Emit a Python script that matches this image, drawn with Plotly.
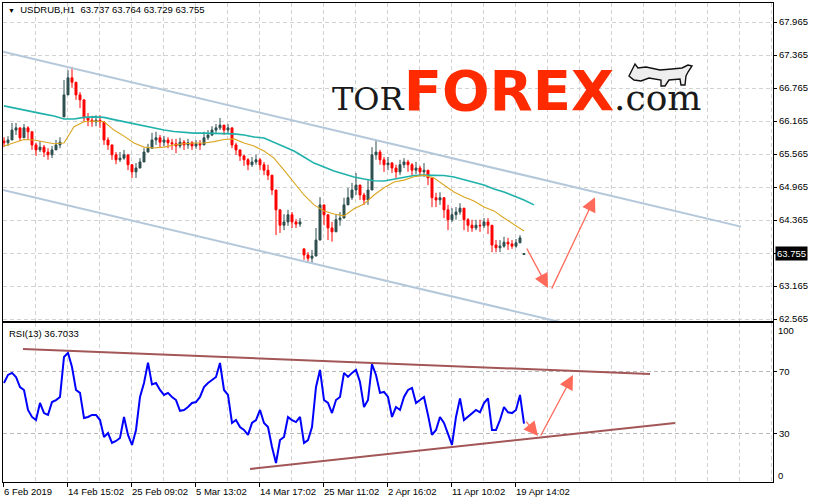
import plotly.graph_objects as go

# ---------------- data ----------------
# H1 bars of USDRUB, bar index 0..130
close = [
    65.77, 65.82, 66.00, 66.04, 65.86, 66.04, 65.97, 65.73, 65.64, 65.69,
    65.60, 65.55, 65.64, 65.73, 65.78, 66.64, 66.95, 66.87, 66.64, 66.55,
    66.22, 66.18, 66.15, 66.18, 66.15, 65.82, 65.73, 65.55, 65.46, 65.49,
    65.55, 65.37, 65.24, 65.31, 65.42, 65.60, 65.67, 65.82, 65.86, 65.78,
    65.82, 65.77, 65.75, 65.71, 65.78, 65.73, 65.77, 65.71, 65.75, 65.73,
    65.86, 65.91, 66.00, 66.04, 66.09, 66.00, 66.04, 65.73, 65.64, 65.53,
    65.46, 65.37, 65.42, 65.46, 65.37, 65.27, 65.18, 64.91, 64.55, 64.27,
    64.33, 64.46, 64.33, 64.29, 64.33, 63.73, 63.67, 63.71, 64.00, 64.64,
    64.46, 64.22, 64.15, 64.37, 64.40, 64.64, 64.77, 64.91, 65.00, 64.82,
    64.73, 64.91, 65.55, 65.60, 65.46, 65.37, 65.40, 65.31, 65.24, 65.37,
    65.42, 65.37, 65.27, 65.31, 65.24, 65.27, 65.13, 64.77, 64.73, 64.77,
    64.55, 64.37, 64.46, 64.51, 64.58, 64.37, 64.27, 64.22, 64.27, 64.26,
    64.33, 64.27, 63.91, 63.86, 63.89, 63.96, 63.93, 63.89, 63.95, 64.04,
    63.755,
]
high = [
    65.87, 65.89, 66.13, 66.13, 66.00, 66.11, 66.07, 65.86, 65.77, 65.80,
    65.73, 65.67, 65.71, 65.82, 65.87, 66.91, 67.09, 67.15, 66.77, 66.69,
    66.46, 66.31, 66.26, 66.27, 66.27, 66.15, 65.87, 65.73, 65.60, 65.60,
    65.64, 65.55, 65.37, 65.40, 65.49, 65.67, 65.75, 65.95, 65.97, 65.91,
    65.89, 65.87, 65.84, 65.84, 65.86, 65.82, 65.84, 65.80, 65.82, 65.82,
    65.97, 66.00, 66.07, 66.11, 66.22, 66.09, 66.11, 65.86, 65.77, 65.64,
    65.55, 65.49, 65.51, 65.55, 65.49, 65.42, 65.37, 65.13, 64.73, 64.51,
    64.47, 64.55, 64.51, 64.38, 64.40, 63.84, 63.78, 63.82, 64.22, 64.78,
    64.64, 64.46, 64.33, 64.47, 64.51, 64.77, 64.95, 65.04, 65.22, 64.98,
    64.86, 65.09, 65.69, 65.82, 65.64, 65.51, 65.51, 65.42, 65.37, 65.46,
    65.49, 65.46, 65.40, 65.42, 65.35, 65.40, 65.24, 64.91, 64.86, 64.87,
    64.69, 64.64, 64.58, 64.60, 64.67, 64.55, 64.40, 64.37, 64.37, 64.37,
    64.40, 64.40, 64.00, 64.00, 64.00, 64.06, 64.04, 64.00, 64.02, 64.09,
    63.764,
]
low = [
    65.69, 65.71, 65.82, 65.91, 65.80, 65.91, 65.82, 65.64, 65.53, 65.60,
    65.51, 65.46, 65.49, 65.64, 65.67, 66.24, 66.69, 66.77, 66.55, 66.40,
    66.15, 66.07, 66.06, 66.07, 66.04, 65.73, 65.64, 65.46, 65.38, 65.42,
    65.46, 65.27, 65.13, 65.13, 65.31, 65.51, 65.60, 65.69, 65.73, 65.69,
    65.71, 65.67, 65.64, 65.58, 65.67, 65.64, 65.66, 65.64, 65.66, 65.64,
    65.78, 65.82, 65.89, 65.95, 66.00, 65.91, 65.95, 65.67, 65.55, 65.44,
    65.35, 65.27, 65.33, 65.37, 65.27, 65.18, 65.09, 64.82, 64.09, 64.13,
    64.18, 64.26, 64.22, 64.22, 64.24, 63.64, 63.60, 63.58, 63.82, 64.37,
    64.27, 64.00, 63.97, 64.22, 64.26, 64.51, 64.64, 64.73, 64.82, 64.73,
    64.64, 64.64, 65.18, 65.46, 65.37, 65.24, 65.27, 65.22, 65.13, 65.18,
    65.31, 65.24, 65.18, 65.20, 65.16, 65.15, 65.00, 64.60, 64.60, 64.64,
    64.40, 64.18, 64.33, 64.37, 64.46, 64.18, 64.15, 64.15, 64.18, 64.15,
    64.22, 64.11, 63.78, 63.78, 63.78, 63.86, 63.82, 63.84, 63.86, 63.95,
    63.729,
]
first_open = 65.80
open_gaps = {15: 66.24, 75: 63.84, 130: 63.737}   # bars that open away from previous close

# moving averages, sampled every 2.5 bars
ma_fast = [
    65.71, 65.765, 65.83, 65.82, 65.78, 65.75, 65.765, 66.06, 66.15, 66.165,
    66.15, 66.00, 65.89, 65.765, 65.69, 65.675, 65.69, 65.73, 65.75, 65.765,
    65.765, 65.79, 65.83, 65.84, 65.765, 65.71, 65.62, 65.49, 65.27, 65.04,
    64.82, 64.64, 64.53, 64.475, 64.44, 64.57, 64.655, 64.82, 64.95, 65.055,
    65.09, 65.15, 65.18, 65.13, 65.00, 64.875, 64.785, 64.71, 64.60, 64.53,
    64.40, 64.275, 64.165,
]
ma_slow = [
    66.44, 66.40, 66.365, 66.33, 66.29, 66.255, 66.20, 66.20, 66.23, 66.24,
    66.23, 66.19, 66.15, 66.11, 66.075, 66.04, 66.00, 65.975, 65.955, 65.945,
    65.945, 65.94, 65.93, 65.93, 65.91, 65.875, 65.856, 65.78, 65.71, 65.62,
    65.51, 65.40, 65.33, 65.256, 65.20, 65.147, 65.11, 65.08, 65.074, 65.11,
    65.147, 65.175, 65.18, 65.18, 65.175, 65.147, 65.10, 65.056, 65.00, 64.93,
    64.874, 64.80, 64.73, 64.64,
]
MA_STEP = 2.5

rsi = [
    62.9, 68.1, 69.4, 66.8, 60.3, 58.4, 45.5, 41.0, 39.0, 50.0,
    43.5, 42.3, 50.6, 51.9, 53.9, 79.7, 82.3, 73.2, 58.4, 56.5,
    40.3, 41.0, 42.3, 42.3, 39.0, 28.1, 30.6, 24.2, 25.5, 27.4,
    41.0, 29.4, 22.9, 32.6, 53.9, 62.9, 76.0, 62.0, 62.9, 58.4,
    55.2, 56.5, 53.9, 51.9, 45.0, 45.5, 47.4, 50.0, 50.6, 53.9,
    60.3, 62.9, 64.8, 66.8, 75.8, 58.4, 55.2, 37.1, 39.0, 34.5,
    32.6, 29.4, 37.1, 39.0, 45.5, 37.1, 34.5, 21.6, 11.3, 26.1,
    28.1, 41.0, 39.0, 37.7, 41.0, 24.2, 26.1, 34.5, 60.3, 71.3,
    51.9, 50.0, 43.5, 51.9, 53.9, 69.4, 66.8, 69.4, 71.3, 63.5,
    47.4, 51.9, 75.0, 68.1, 56.5, 57.1, 53.9, 41.0, 47.4, 45.5,
    53.9, 58.4, 59.7, 50.0, 51.9, 53.9, 42.3, 29.4, 32.6, 41.0,
    37.1, 30.6, 23.0, 41.0, 53.0, 39.0, 41.0, 43.5, 45.5, 44.0,
    50.0, 53.0, 32.6, 32.6, 39.0, 47.4, 44.0, 43.5, 45.5, 55.2,
    36.7033,
]

# analyst drawings: (bar, price) / (bar, rsi) end points
channel_upper = [(-0.25, 67.425), (184.25, 64.245)]
channel_lower = [(-0.25, 64.91), (147.75, 62.36)]
price_arrows = [((130.5, 63.874), (136.0, 63.13)), ((136.75, 63.09), (147.75, 64.78))]
rsi_upper = [(4.75, 84.8), (161.5, 68.7)]
rsi_lower = [(61.5, 7.4), (167.75, 37.1)]
rsi_arrows = [((130.25, 39.0), (133.5, 28.7)), ((134.0, 28.1), (142.25, 68.1))]

time_labels = ["6 Feb 2019", "14 Feb 15:02", "25 Feb 09:02", "5 Mar 13:02",
               "14 Mar 17:02", "25 Mar 11:02", "2 Apr 16:02", "11 Apr 10:02",
               "19 Apr 14:02"]
label_bars = [-0.25, 15.75, 31.75, 47.75, 63.75, 79.75, 95.75, 111.75, 127.75]
price_ticks = [62.565, 63.165, 63.765, 64.365, 64.965, 65.565, 66.165, 66.765, 67.365, 67.965]
last_price = 63.755
rsi_period = 13

# ---------------- figure ----------------
W, H = 814, 503
L, R, T, B = 3, 773, 3, 482
MAIN_BOTTOM, RSI_TOP = 321, 323


def pxx(x):
    return (x - L) / (R - L)


def pyy(y):
    return (B - y) / (B - T)


bars = list(range(len(close)))
opens = [first_open] + close[:-1]
for k, v in open_gaps.items():
    opens[k] = v
highs = [max(h, o, c) for h, o, c in zip(high, opens, close)]
lows = [min(l, o, c) for l, o, c in zip(low, opens, close)]

GRID = "#d2d2d2"
BULL = "#2F4F4F"
BEAR = "#FF0000"
ARROW = "#FF6A5A"

fig = go.Figure()
fig.add_trace(go.Candlestick(
    x=bars, open=opens, high=highs, low=lows, close=close,
    increasing=dict(line=dict(color=BULL, width=1), fillcolor=BULL),
    decreasing=dict(line=dict(color=BEAR, width=1), fillcolor=BEAR),
    whiskerwidth=0, xaxis="x", yaxis="y", hoverinfo="skip", showlegend=False))

fig.add_trace(go.Scatter(x=[k * MA_STEP for k in range(len(ma_slow))], y=ma_slow,
                         mode="lines", line=dict(color="#20B2AA", width=1.6),
                         xaxis="x", yaxis="y", hoverinfo="skip"))
fig.add_trace(go.Scatter(x=[k * MA_STEP for k in range(len(ma_fast))], y=ma_fast,
                         mode="lines", line=dict(color="#DAA520", width=1.1),
                         xaxis="x", yaxis="y", hoverinfo="skip"))
for ln in (channel_upper, channel_lower):
    fig.add_trace(go.Scatter(x=[p[0] for p in ln], y=[p[1] for p in ln], mode="lines",
                             line=dict(color="#B4C8DA", width=2),
                             xaxis="x", yaxis="y", hoverinfo="skip"))

fig.add_trace(go.Scatter(x=bars, y=rsi, mode="lines", line=dict(color="#0000FF", width=2),
                         xaxis="x2", yaxis="y2", hoverinfo="skip"))
for ln in (rsi_upper, rsi_lower):
    fig.add_trace(go.Scatter(x=[p[0] for p in ln], y=[p[1] for p in ln], mode="lines",
                             line=dict(color="#A25656", width=2),
                             xaxis="x2", yaxis="y2", hoverinfo="skip"))

annotations = []
for (t, h), xr, yr in [(a, "x", "y") for a in price_arrows] + [(a, "x2", "y2") for a in rsi_arrows]:
    annotations.append(dict(x=h[0], y=h[1], ax=t[0], ay=t[1], xref=xr, yref=yr,
                            axref=xr, ayref=yr, text="", showarrow=True,
                            arrowhead=2, arrowsize=2.2, arrowwidth=1.3, arrowcolor=ARROW))

for lab, b in zip(time_labels, label_bars):
    annotations.append(dict(x=b, xref="x2", y=pyy(491), yref="paper", text=lab,
                            xanchor="left", yanchor="middle", xshift=-1, showarrow=False))

annotations.append(dict(x=pxx(6), y=pyy(10), xref="paper", yref="paper",
                        text="<span style='font-size:7px'>▼</span>  USDRUB,H1  63.737 63.764 63.729 63.755",
                        xanchor="left", yanchor="middle", showarrow=False))
annotations.append(dict(x=pxx(7), y=pyy(333), xref="paper", yref="paper",
                        text="RSI(%d) %.4f" % (rsi_period, rsi[-1]),
                        xanchor="left", yanchor="middle", showarrow=False))
annotations.append(dict(x=1, xref="paper", xanchor="left", xshift=2, y=last_price, yref="y",
                        yanchor="middle", text="%.3f" % last_price, bgcolor="black",
                        font=dict(color="white"), borderpad=1, showarrow=False))
annotations.append(dict(x=1, xref="paper", xanchor="left", xshift=3, y=pyy(330), yref="paper",
                        yanchor="middle", text="100", showarrow=False))
annotations.append(dict(x=1, xref="paper", xanchor="left", xshift=3, y=pyy(475), yref="paper",
                        yanchor="middle", text="0", showarrow=False))

logo = ("<span style='font-family:DejaVu Serif;font-size:32px;color:#1a1a1a'>TOR</span>"
        "<span style='font-family:DejaVu Sans;font-size:56px;color:#ff2a00;font-weight:bold'>FOREX</span>"
        "<span style='font-family:DejaVu Serif;font-size:36px;color:#1a1a1a'>.com</span>")
annotations.append(dict(x=pxx(330), y=pyy(91), xref="paper", yref="paper", text=logo,
                        xanchor="left", yanchor="middle", showarrow=False,
                        font=dict(size=56)))

# small bull emblem of the logo (decoration), outline in pixel space
bull_outline = [(629, 76), (632, 70), (635, 64), (638, 68), (646, 67), (660, 70), (672, 69),
                (682, 68), (688, 65), (692, 66), (688, 72), (686, 76), (685, 85), (681, 85),
                (680, 79), (669, 80), (665, 86), (661, 86), (661, 80), (649, 78), (641, 81),
                (634, 80)]
bull_path = "M " + " L ".join("%.5f,%.5f" % (pxx(x), pyy(y)) for x, y in bull_outline) + " Z"
shapes = [dict(type="path", xref="paper", yref="paper", path=bull_path,
               fillcolor="#eeeeee", line=dict(color="#111111", width=1.4), layer="above")]

axis_common = dict(showline=True, linecolor="black", linewidth=1, mirror=True, zeroline=False,
                   fixedrange=True, automargin=False)
xgrid = dict(showgrid=True, gridcolor=GRID, gridwidth=1, griddash="4px,3px",
             minor=dict(tick0=-0.25, dtick=8, showgrid=True, gridcolor=GRID, gridwidth=1,
                        griddash="4px,3px", ticks=""))

fig.update_layout(
    width=W, height=H, margin=dict(l=L, r=W - R, t=T, b=H - B, pad=0, autoexpand=False),
    paper_bgcolor="white", plot_bgcolor="white", showlegend=False,
    font=dict(family="Liberation Sans, Arial, sans-serif", size=9.5, color="black"),
    xaxis=dict(domain=[0, 1], anchor="y", range=[-0.25, 192.25], tickvals=label_bars,
               showticklabels=False, ticks="", rangeslider=dict(visible=False),
               **xgrid, **axis_common),
    xaxis2=dict(domain=[0, 1], anchor="y2", range=[-0.25, 192.25], matches="x",
                tickvals=label_bars, showticklabels=False, ticks="outside", ticklen=4,
                tickcolor="black", **xgrid, **axis_common),
    yaxis=dict(domain=[pyy(MAIN_BOTTOM), 1], anchor="x", side="right",
               range=[68.365 - MAIN_BOTTOM / 55, 68.365 - T / 55],
               tickvals=price_ticks,
               ticktext=["" if abs(v - 63.765) < 1e-6 else "%.3f" % v for v in price_ticks],
               ticks="outside", ticklen=3, tickcolor="black",
               showgrid=True, gridcolor=GRID, griddash="4px,3px", **axis_common),
    yaxis2=dict(domain=[0, pyy(RSI_TOP)], anchor="x2", side="right",
                range=[-0.97, 101.6], tickvals=[30, 70], ticktext=["30", "70"],
                ticks="outside", ticklen=3, tickcolor="black",
                showgrid=True, gridcolor="#b8b8b8", griddash="4px,3px", **axis_common),
    annotations=annotations,
    shapes=shapes,
)

fig.write_html("out.html", config={"displayModeBar": False},
               post_script="document.body.style.margin='0';document.body.style.padding='0';")
